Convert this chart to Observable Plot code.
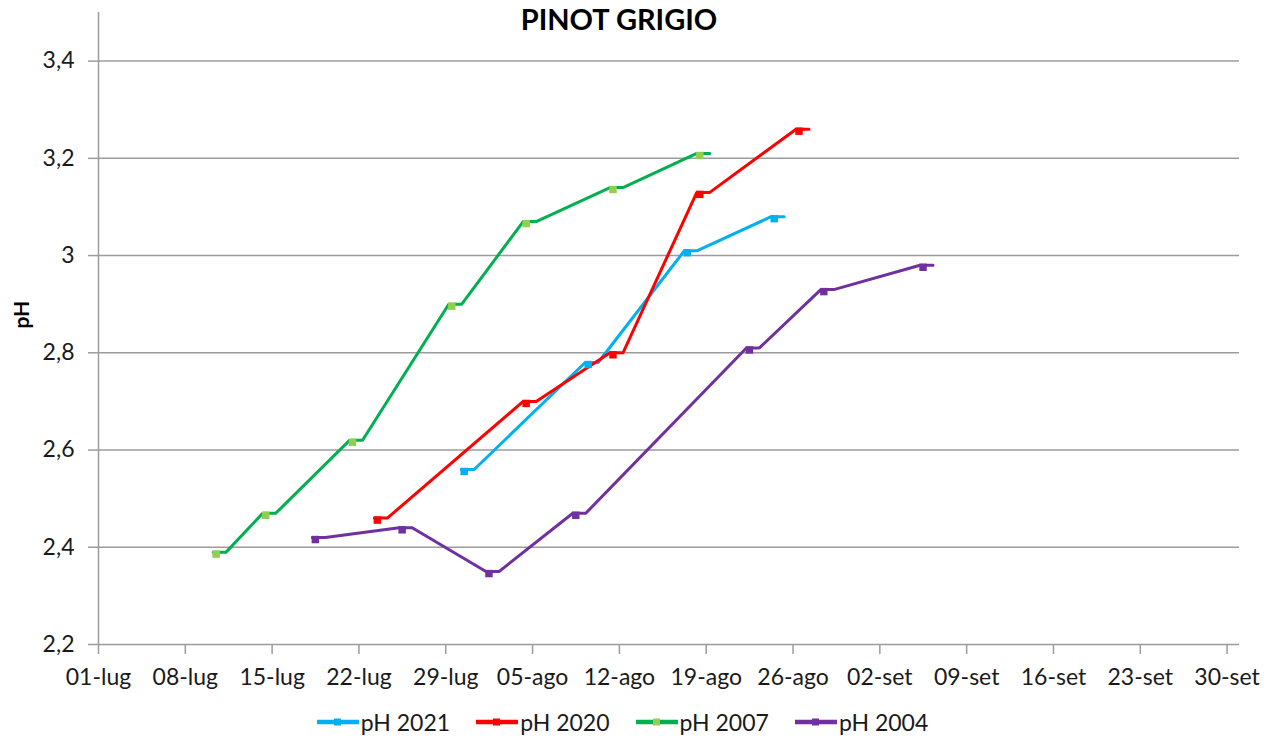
<!DOCTYPE html>
<html>
<head>
<meta charset="utf-8">
<script src="https://cdn.jsdelivr.net/npm/d3@7"></script>
<script src="https://cdn.jsdelivr.net/npm/@observablehq/plot@0.6"></script>
<style>
  html, body { margin: 0; padding: 0; background: #fff; }
  #wrap { position: relative; width: 1277px; height: 745px; font-family: Lato, "Open Sans", sans-serif; }
  #legend { position: absolute; left: 0; top: 708px; width: 1277px; display: flex; justify-content: center; gap: 26px; transform: translateX(-16px); font-size: 23px; color: #1a1a1a; }
  .item { display: flex; align-items: center; gap: 2px; }
</style>
</head>
<body>
<div id="wrap">
  <div id="chart"></div>
  <div id="legend"></div>
</div>
<script>
// ---- data ----
const seriesNames = ["pH 2021", "pH 2020", "pH 2007", "pH 2004"];
const lineColors = ["#00B0F0", "#FF0000", "#00B050", "#7030A0"];
const markerColors = ["#00B0F0", "#FF0000", "#8FD14F", "#7030A0"];

const dates2021 = ["30-lug", "09-ago", "17-ago", "24-ago"];
const values2021 = [2.56, 2.78, 3.01, 3.08];

const dates2020 = ["23-lug", "04-ago", "11-ago", "18-ago", "26-ago"];
const values2020 = [2.46, 2.70, 2.80, 3.13, 3.26];

const dates2007 = ["10-lug", "14-lug", "21-lug", "29-lug", "04-ago", "11-ago", "18-ago"];
const values2007 = [2.39, 2.47, 2.62, 2.90, 3.07, 3.14, 3.21];

const dates2004 = ["18-lug", "25-lug", "01-ago", "08-ago", "22-ago", "28-ago", "05-set"];
const values2004 = [2.42, 2.44, 2.35, 2.47, 2.81, 2.93, 2.98];

const xTickLabels = ["01-lug", "08-lug", "15-lug", "22-lug", "29-lug", "05-ago", "12-ago", "19-ago", "26-ago", "02-set", "09-set", "16-set", "23-set", "30-set"];
const yTicks = [2.2, 2.4, 2.6, 2.8, 3.0, 3.2, 3.4];
const xDomainLabels = ["01-lug", "01-ott"];
const yDomain = [2.2, 3.5];
const title = "PINOT GRIGIO";
const yLabel = "pH";

// ---- helpers ----
const monthIdx = {lug: 6, ago: 7, set: 8, ott: 9};
const parseDM = s => { const [dd, mm] = s.split("-"); return new Date(Date.UTC(2021, monthIdx[mm], +dd)); };

const allDates = [dates2021, dates2020, dates2007, dates2004];
const allValues = [values2021, values2020, values2007, values2004];
const data = [];
seriesNames.forEach((name, si) => {
  allDates[si].forEach((d, i) => data.push({series: name, date: parseDM(d), value: allValues[si][i]}));
});

const xTicks = xTickLabels.map(parseDM);
const fmtY = d => String(+d.toFixed(1)).replace(".", ",");

// Excel-like line: after each vertex a short horizontal stub
function stubCurve(context) {
  let first = true;
  return {
    areaStart() {}, areaEnd() {},
    lineStart() { first = true; },
    lineEnd() {},
    point(x, y) {
      if (first) { context.moveTo(x, y); first = false; } else context.lineTo(x, y);
      context.lineTo(x + 13, y);
    }
  };
}

const grey = "#9c9c9c";
const colorScale = {domain: seriesNames, range: lineColors};

const chart = Plot.plot({
  width: 1277,
  height: 705,
  marginLeft: 98,
  marginRight: 38,
  marginTop: 12,
  marginBottom: 61,
  style: {fontFamily: "Lato, 'Open Sans', sans-serif", fontSize: "23px", color: "#1a1a1a", background: "#fff", overflow: "visible"},
  x: {type: "utc", domain: xDomainLabels.map(parseDM)},
  y: {domain: yDomain},
  color: colorScale,
  marks: [
    Plot.gridY(yTicks, {stroke: grey, strokeOpacity: 1, strokeWidth: 1.5}),
    Plot.ruleX([parseDM(xDomainLabels[0])], {stroke: grey, strokeWidth: 1.5}),
    Plot.axisY(yTicks, {tickSize: 10, tickPadding: 14, tickFormat: fmtY, label: null, stroke: grey, strokeWidth: 1.5}),
    Plot.axisX(xTicks, {tickSize: 10, tickPadding: 14, tickFormat: (d, i) => xTickLabels[i], label: null, stroke: grey, strokeWidth: 1.5}),
    Plot.line(data, {x: "date", y: "value", z: "series", stroke: "series", strokeWidth: 3, curve: stubCurve, dx: 3}),
    Plot.dot(data, {x: "date", y: "value", fill: d => markerColors[seriesNames.indexOf(d.series)], symbol: "square", r: 4.2, dx: 6, dy: 2}),
    Plot.text([title], {frameAnchor: "top", dx: -50, dy: -3, lineAnchor: "top", fontSize: 29, fontWeight: "bold", fill: "#000"}),
    Plot.text([yLabel], {frameAnchor: "left", dx: -76, rotate: -90, fontSize: 21, fontWeight: "bold", fill: "#000"})
  ]
});
document.getElementById("chart").appendChild(chart);

// ---- legend ----
const legend = document.getElementById("legend");
seriesNames.forEach((name, i) => {
  const item = document.createElement("div");
  item.className = "item";
  item.innerHTML = `<svg width="42" height="12"><line x1="0" x2="42" y1="6" y2="6" stroke="${lineColors[i]}" stroke-width="4.5"/><rect x="17" y="2.5" width="7" height="7" fill="${markerColors[i]}"/></svg><span>${name}</span>`;
  legend.appendChild(item);
});
</script>
</body>
</html>
